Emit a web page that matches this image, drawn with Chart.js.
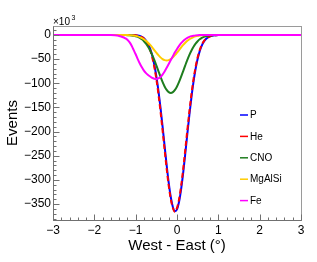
<!DOCTYPE html>
<html>
<head>
<meta charset="utf-8">
<script src="https://cdn.jsdelivr.net/npm/chart.js@4.4.1/dist/chart.umd.min.js"></script>
<style>
  html, body { margin: 0; padding: 0; background: #fff; }
</style>
</head>
<body>
<canvas id="profileChart" width="317" height="262"></canvas>
<script>
// West - East offset (deg), finer steps where the dips are
const xs = [-3, -2.5, -2, -1.8, -1.7, -1.6,
  -1.5, -1.45, -1.4, -1.35, -1.3, -1.25, -1.2, -1.15, -1.1, -1.05,
  -1.0, -0.95, -0.9, -0.85, -0.8, -0.75, -0.7, -0.65, -0.6, -0.55,
  -0.5, -0.45, -0.4, -0.35, -0.3, -0.25, -0.2, -0.15, -0.1, -0.05,
  0, 0.05, 0.1, 0.15, 0.2, 0.25, 0.3, 0.35, 0.4, 0.45,
  0.5, 0.55, 0.6, 0.65, 0.7, 0.75, 0.8, 0.85, 0.9,
  1.0, 1.1, 1.2, 1.5, 2, 2.5, 3];

// events, in units of 10^3
const pVals = [0, 0, 0, 0, 0, 0,
  0, 0, 0, 0, 0, 0, 0, -0.1, -0.2, -0.3,
  -0.7, -1.3, -2.3, -4.1, -6.9, -11.5, -18.4, -28.4, -42.5, -61.3,
  -85.5, -115.2, -150.1, -188.8, -229.6, -269.7, -306.2, -336, -356.1, -364.7,
  -361, -345.3, -319.1, -285, -245.9, -205, -165.2, -128.6, -96.7, -70.3,
  -49.4, -33.5, -22, -13.9, -8.5, -5, -2.9, -1.6, -0.9,
  -0.2, 0, 0, 0, 0, 0, 0];

const heVals = [0, 0, 0, 0, 0, 0,
  0, 0, 0, 0, 0, 0, 0, -0.1, -0.2, -0.4,
  -0.8, -1.5, -2.7, -4.7, -7.8, -12.9, -20.4, -31.2, -46.3, -66.1,
  -91.4, -122.2, -157.8, -197, -237.6, -277, -312.2, -340, -357.8, -366,
  -357.9, -340, -312.3, -277.2, -237.7, -197, -157.9, -122.2, -91.4, -66.1,
  -46.2, -31.2, -20.4, -12.8, -7.8, -4.6, -2.6, -1.5, -0.8,
  -0.2, 0, 0, 0, 0, 0, 0];

const cnoVals = [0, 0, 0, 0, 0, 0,
  0, 0, 0, 0, 0, -0.2, -0.4, -0.6, -1.0, -1.7,
  -2.7, -4.1, -6.2, -9.1, -13, -18, -24.4, -32.2, -41.3, -51.7,
  -63, -74.7, -86.4, -97.2, -106.6, -113.8, -118.4, -120, -118.4, -113.8,
  -106.6, -97.2, -86.4, -74.7, -63, -51.7, -41.3, -32.2, -24.4, -18,
  -13, -9.1, -6.2, -4.1, -2.7, -1.7, -1.0, -0.6, -0.4,
  -0.1, 0, 0, 0, 0, 0, 0];

const mgalsiVals = [0, 0, 0, 0, 0, 0,
  0, 0, 0, 0, 0, -0.15, -0.26, -0.45, -0.76, -1.2,
  -1.9, -3.0, -4.4, -6.4, -8.9, -12.2, -16.1, -20.7, -25.8, -31.2,
  -36.7, -41.9, -46.4, -50, -52.2, -53, -52.2, -50, -46.4, -41.9,
  -36.7, -31.2, -25.8, -20.7, -16.1, -12.2, -8.9, -6.4, -4.4, -3.0,
  -1.9, -1.2, -0.8, -0.5, -0.3, -0.1, 0, 0, 0,
  0, 0, 0, 0, 0, 0, 0];

const feVals = [0, 0, 0, 0, -0.1, -0.3,
  -0.8, -1.3, -2.0, -3.2, -4.8, -7, -10, -15, -22, -31,
  -40, -50, -59, -67, -74, -79, -83, -86, -89, -90.5,
  -91, -90, -87, -82, -75.5, -68, -60, -52, -44, -36,
  -29, -22.5, -17, -12.5, -8.8, -6, -4, -2.5, -1.5, -0.9,
  -0.5, -0.3, -0.2, -0.1, 0, 0, 0, 0, 0,
  0, 0, 0, 0, 0, 0, 0];

const seriesNames = ['P', 'He', 'CNO', 'MgAlSi', 'Fe'];
const seriesColors = ['#0000ff', '#ff0000', '#1e7d1e', '#ffcc00', '#ff00ff'];
const xTicks = [-3, -2, -1, 0, 1, 2, 3];
const yTicks = [0, -50, -100, -150, -200, -250, -300, -350];

const FONT = "'Liberation Sans', Arial, sans-serif";
const toPoints = vals => xs.map((x, i) => ({ x: x, y: vals[i] }));
const minus = v => String(v).replace('-', '\u2212');

// ROOT-like frame: grey box, ticks pointing inward, exponent, legend
const rootFrame = {
  id: 'rootFrame',
  afterDraw(chart) {
    const { ctx, chartArea: a, scales } = chart;
    const x = scales.x, y = scales.y;
    const L = Math.round(a.left) + 0.5, R = Math.round(a.right) + 0.5;
    const T = Math.round(a.top) + 0.5, B = Math.round(a.bottom) + 0.5;
    ctx.save();
    ctx.lineWidth = 1;
    ctx.strokeStyle = '#9a9a9a';
    ctx.strokeRect(L, T, R - L, B - T);

    ctx.strokeStyle = '#707070';
    ctx.beginPath();
    for (let i = -38; i <= 1; i++) {
      const py = Math.round(y.getPixelForValue(i * 10)) + 0.5;
      const len = i % 5 === 0 ? 6 : 3;
      ctx.moveTo(L, py); ctx.lineTo(L + len, py);
    }
    for (let i = -15; i <= 15; i++) {
      const px = Math.round(x.getPixelForValue(i / 5)) + 0.5;
      const len = i % 5 === 0 ? 6 : 3;
      ctx.moveTo(px, B); ctx.lineTo(px, B - len);
    }
    ctx.moveTo(L, T); ctx.lineTo(L, B); ctx.lineTo(R, B);
    ctx.stroke();

    // exponent
    ctx.fillStyle = '#000';
    ctx.textBaseline = 'alphabetic';
    ctx.textAlign = 'left';
    ctx.font = '10px ' + FONT;
    ctx.fillText('\u00d710', 53, 25);
    ctx.font = '7px ' + FONT;
    ctx.fillText('3', 71.5, 20);

    // legend
    ctx.font = '10px ' + FONT;
    ctx.textBaseline = 'middle';
    seriesNames.forEach((name, i) => {
      const ly = 115 + i * 21.4;
      ctx.strokeStyle = seriesColors[i];
      ctx.lineWidth = 1.5;
      ctx.beginPath();
      ctx.moveTo(240, ly); ctx.lineTo(248, ly);
      ctx.stroke();
      ctx.fillStyle = '#000';
      ctx.fillText(name, 250, ly + 0.5);
    });
    ctx.restore();
  }
};

const seriesVals = [pVals, heVals, cnoVals, mgalsiVals, feVals];
const ctx = document.getElementById('profileChart').getContext('2d');
const chart = new Chart(ctx, {
  type: 'line',
  data: {
    datasets: seriesNames.map((name, i) => ({
      label: name,
      data: toPoints(seriesVals[i]),
      borderColor: seriesColors[i],
      borderWidth: 2,
      borderDash: name === 'He' ? [5, 3] : [],
      order: 5 - i, // Fe drawn last, on top
      fill: false
    }))
  },
  options: {
    responsive: false,
    animation: false,
    events: [],
    layout: { padding: { top: 26, right: 16, left: 0, bottom: 0 } },
    elements: {
      point: { radius: 0 },
      line: { cubicInterpolationMode: 'monotone' }
    },
    plugins: { legend: { display: false }, tooltip: { enabled: false } },
    scales: {
      x: {
        type: 'linear', min: -3, max: 3,
        grid: { display: false, drawTicks: false }, border: { display: false },
        afterBuildTicks: s => { s.ticks = xTicks.map(v => ({ value: v })); },
        afterFit: s => { s.height = 42; },
        ticks: { color: '#000', font: { family: FONT, size: 12 }, padding: 3,
                 autoSkip: false, maxRotation: 0, callback: v => minus(v) },
        title: { display: true, text: 'West - East (\u00b0)', color: '#000',
                 font: { family: FONT, size: 15 }, padding: { top: 0, bottom: 7 } }
      },
      y: {
        type: 'linear', min: -383, max: 18.5,
        grid: { display: false, drawTicks: false }, border: { display: false },
        afterBuildTicks: s => { s.ticks = yTicks.map(v => ({ value: v })); },
        afterFit: s => { s.width = 53; },
        ticks: { color: '#000', font: { family: FONT, size: 12 }, padding: 2,
                 callback: v => minus(v) },
        title: { display: true, text: 'Events', color: '#000',
                 font: { family: FONT, size: 15 }, padding: { top: 3.5, bottom: 0 } }
      }
    }
  },
  plugins: [rootFrame]
});
</script>
</body>
</html>
